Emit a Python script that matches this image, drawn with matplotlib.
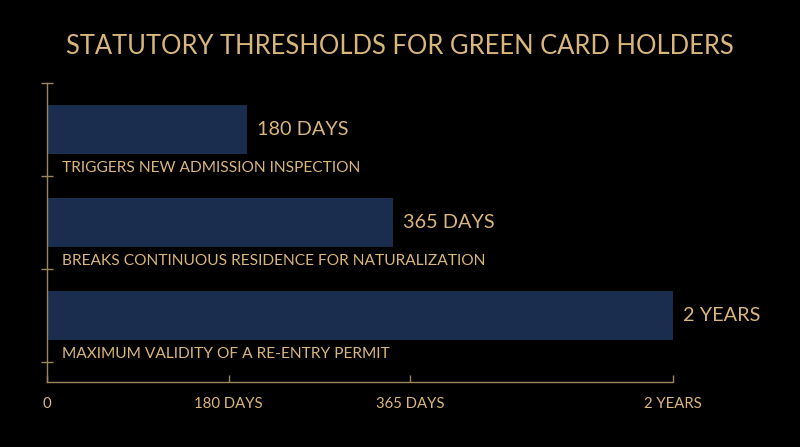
import matplotlib.pyplot as plt

# ---------------------------------------------------------
# Datos del gráfico
# ---------------------------------------------------------
titulo = "STATUTORY THRESHOLDS FOR GREEN CARD HOLDERS"
umbrales = ["180 DAYS", "365 DAYS", "2 YEARS"]
descripciones = [
    "TRIGGERS NEW ADMISSION INSPECTION",
    "BREAKS CONTINUOUS RESIDENCE FOR NATURALIZATION",
    "MAXIMUM VALIDITY OF A RE-ENTRY PERMIT",
]
# longitud de barra (escala visual del original, aprox. en días)
longitudes = [198, 343, 620]
ticks_x = [0, 180, 360, 620]
etiquetas_x = ["0", "180 DAYS", "365 DAYS", "2 YEARS"]

# ---------------------------------------------------------
# Estilo
# ---------------------------------------------------------
FONDO = "#000000"
BARRA = "#1b2d4e"
ORO = "#d9b67c"
EJE = "#9c8660"
FUENTE = "Lato"

plt.rcParams["font.family"] = [FUENTE, "DejaVu Sans"]

fig = plt.figure(figsize=(8, 4.47), dpi=100, facecolor=FONDO)
W, H = 800, 447
ax = fig.add_axes([47 / W, 1 - 382 / H, 626 / W, 299 / H], facecolor=FONDO)

y = list(range(len(longitudes)))
ax.barh(y, longitudes, height=0.53, color=BARRA, zorder=2)

for i, (largo, etiqueta, desc) in enumerate(zip(longitudes, umbrales, descripciones)):
    ax.text(largo + 10, i, etiqueta, color=ORO, fontsize=14.3,
            va="center", ha="left")
    ax.text(15, i + 0.41, desc, color=ORO, fontsize=11.2,
            va="center", ha="left")

ax.set_xlim(0, 620)
ax.set_ylim(-0.5 + 299 / 93, -0.5)

# ejes
for lado in ["top", "right"]:
    ax.spines[lado].set_visible(False)
for lado in ["left", "bottom"]:
    ax.spines[lado].set_color(EJE)
    ax.spines[lado].set_linewidth(1.0)

ax.set_xticks(ticks_x)
ax.set_xticklabels(etiquetas_x)
ax.tick_params(axis="x", direction="in", length=5, width=1.0, color=EJE,
               labelcolor=ORO, labelsize=10.7, pad=11)

ax.set_yticks([-0.5, 0.5, 1.5, 2.5])
ax.set_yticks(y, minor=True)
ax.set_yticklabels([])
ax.tick_params(axis="y", which="major", direction="inout", length=8,
               width=1.0, color=EJE)
ax.tick_params(axis="y", which="minor", direction="in", length=4,
               width=1.0, color=EJE)

fig.text(0.5, 1 - 47 / H, titulo, color=ORO, fontsize=18.4,
         ha="center", va="center")

fig.savefig("out.png", dpi=100, facecolor=FONDO)
